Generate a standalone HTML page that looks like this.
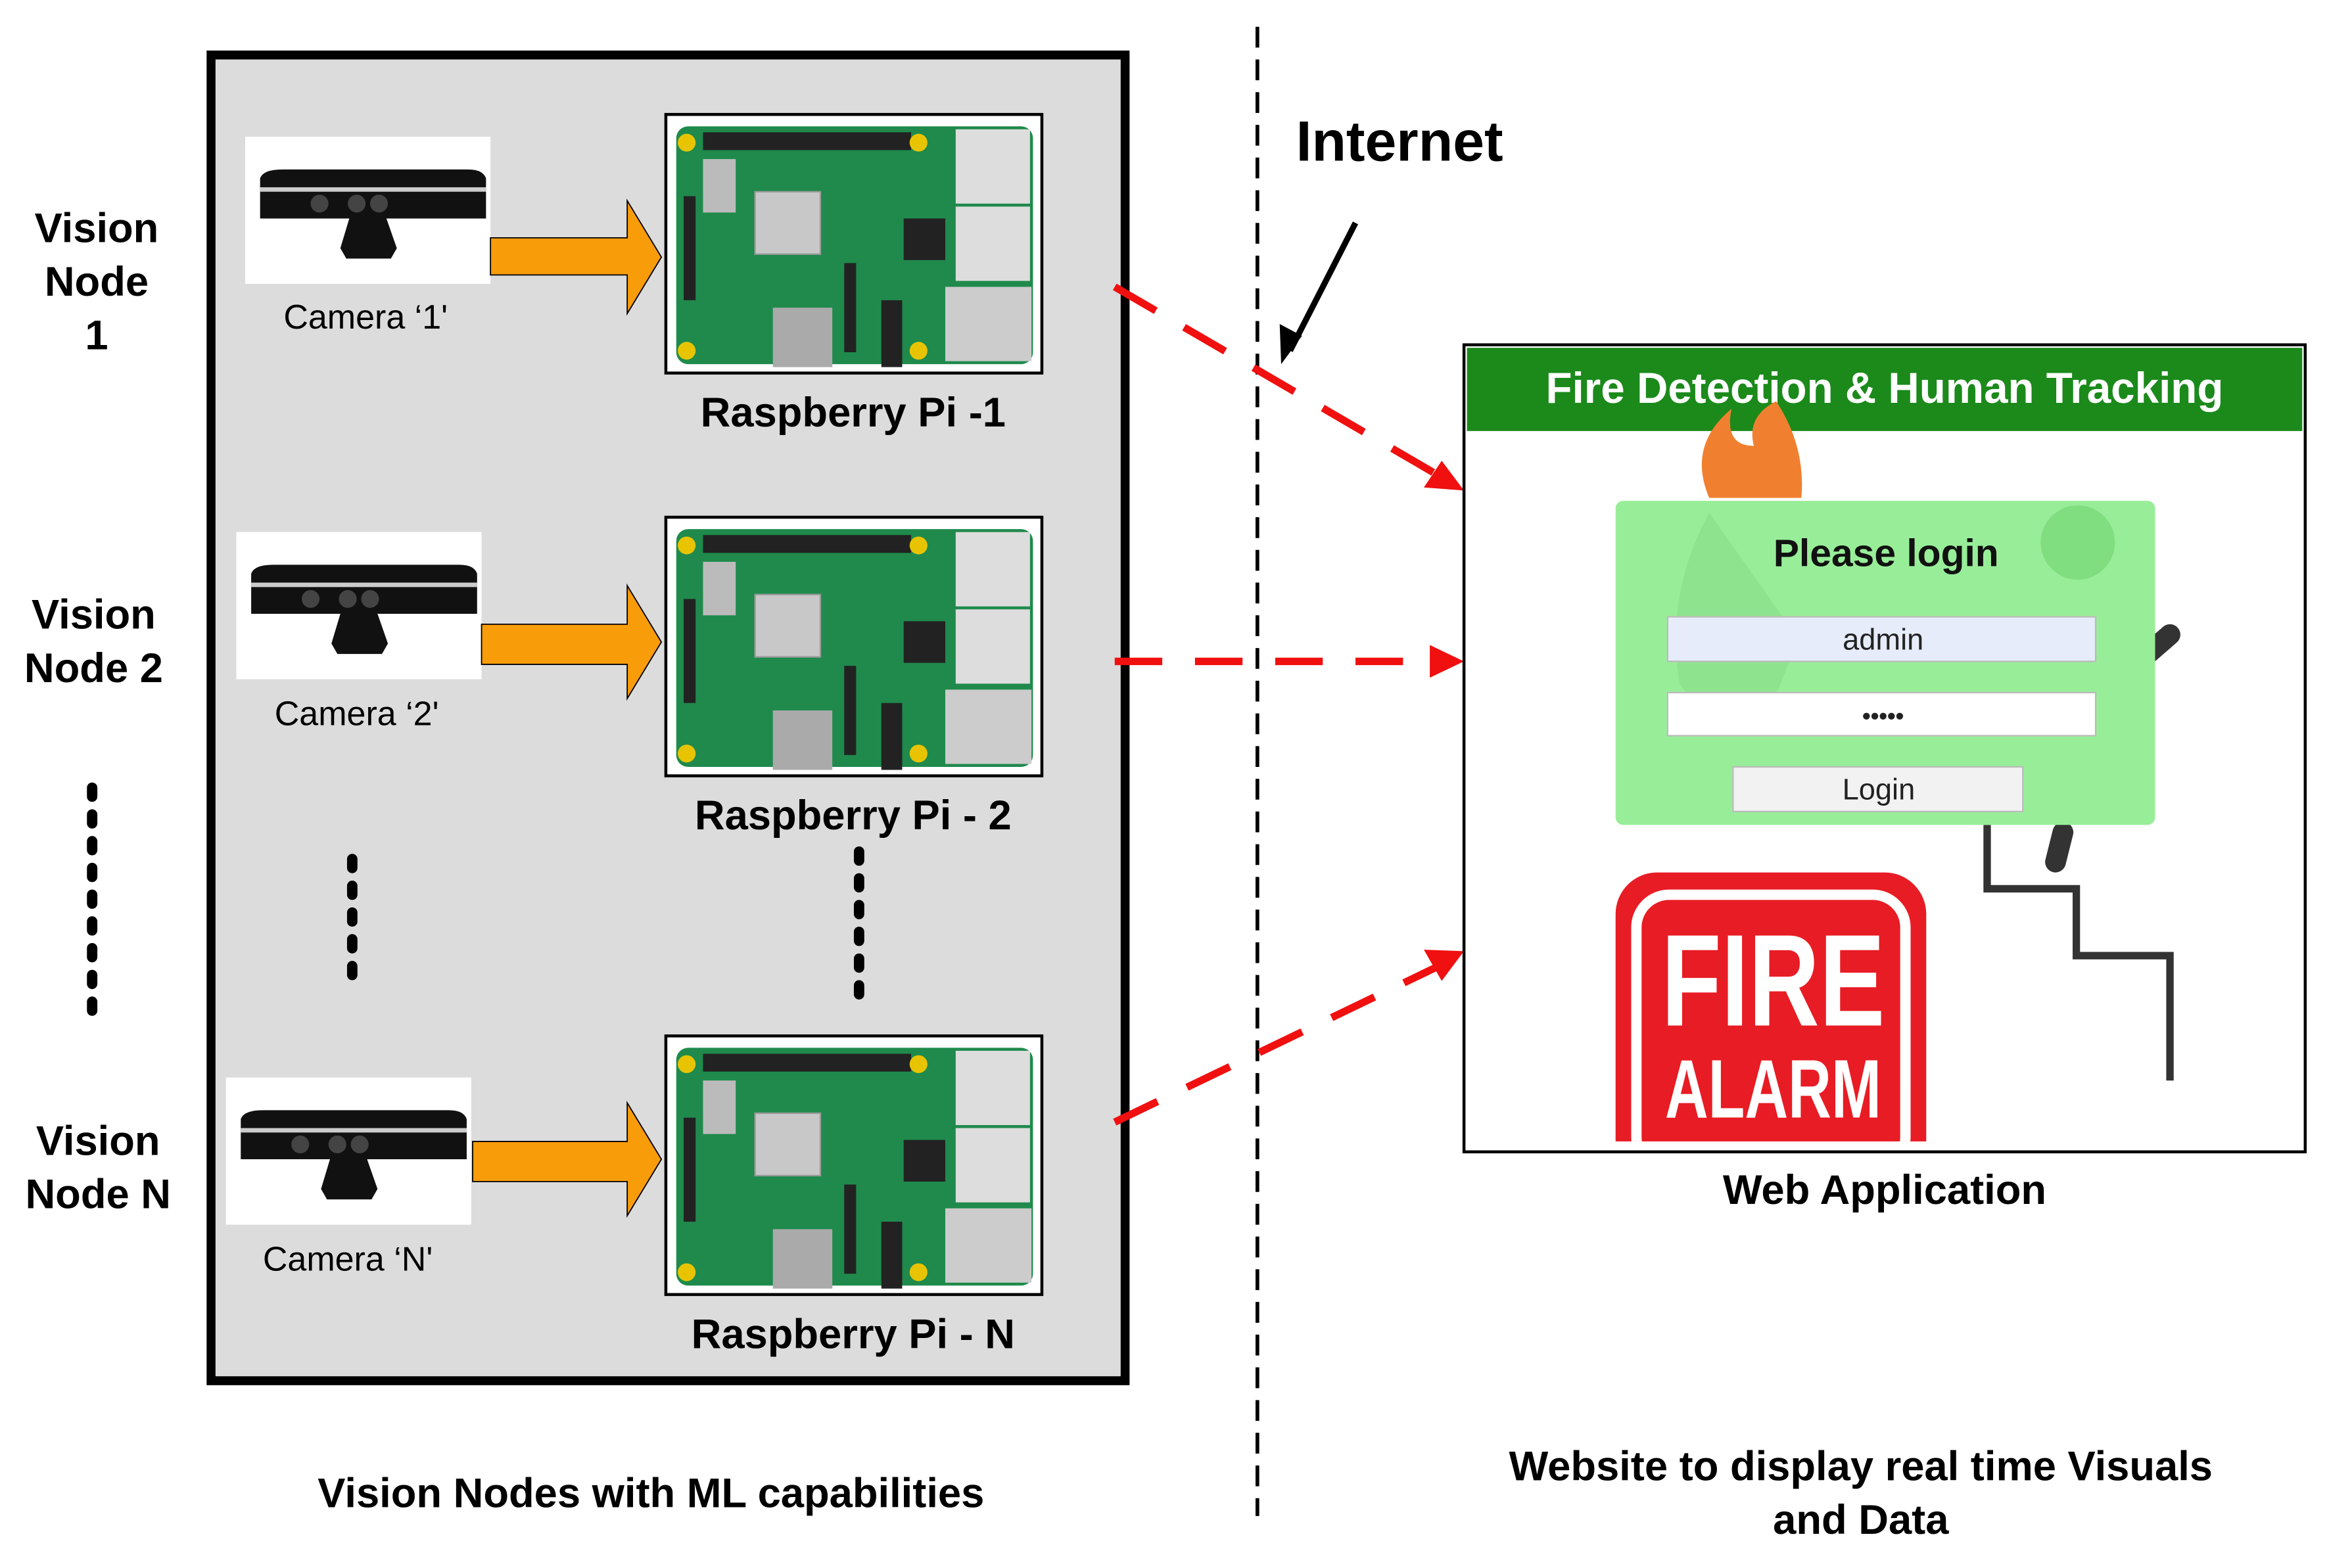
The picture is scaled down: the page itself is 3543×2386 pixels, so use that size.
<!DOCTYPE html>
<html><head><meta charset="utf-8"><style>
html,body{margin:0;padding:0;background:#fff;}
svg{display:block;}
text{font-family:"Liberation Sans",Arial,sans-serif;}
</style></head><body>
<svg width="3543" height="2386" viewBox="0 0 1567 1055" preserveAspectRatio="none" xmlns="http://www.w3.org/2000/svg">
<defs>
<g id="pi">
<rect x="0" y="0" width="253" height="174" fill="#fff" stroke="#000" stroke-width="2"/>
<rect x="7" y="8" width="240" height="160" rx="8" fill="#1f8a4c"/>
<rect x="25" y="12" width="140" height="12" fill="#222"/>
<circle cx="14" cy="19" r="6" fill="#e8c400"/><circle cx="170" cy="19" r="6" fill="#e8c400"/>
<circle cx="14" cy="159" r="6" fill="#e8c400"/><circle cx="170" cy="159" r="6" fill="#e8c400"/>
<rect x="60" y="52" width="44" height="42" fill="#c8c8c8" stroke="#999"/>
<rect x="25" y="30" width="22" height="36" fill="#bbb"/>
<rect x="160" y="70" width="28" height="28" fill="#222"/>
<rect x="195" y="10" width="50" height="50" fill="#ddd"/>
<rect x="195" y="62" width="50" height="50" fill="#ddd"/>
<rect x="188" y="116" width="58" height="50" fill="#ccc"/>
<rect x="72" y="130" width="40" height="40" fill="#aaa"/>
<rect x="145" y="125" width="14" height="45" fill="#222"/>
<rect x="120" y="100" width="8" height="60" fill="#222"/>
<rect x="12" y="55" width="8" height="70" fill="#222"/>
</g>
<g id="cam">
<rect x="0" y="0" width="165" height="99" fill="#fff"/>
<path d="M10 28 Q12 22 25 22 L150 22 Q160 22 162 28 L162 55 L10 55 Z" fill="#111"/>
<rect x="10" y="34" width="152" height="3" fill="#ccc"/>
<circle cx="50" cy="45" r="6" fill="#444"/><circle cx="75" cy="45" r="6" fill="#444"/><circle cx="90" cy="45" r="6" fill="#444"/>
<path d="M70 55 L95 55 L102 75 L98 82 L68 82 L64 75 Z" fill="#111"/>
</g>
</defs>

<rect x="142" y="37" width="615" height="892" fill="#dcdcdc" stroke="#000" stroke-width="6"/>

<use href="#cam" x="165" y="92"/>
<use href="#cam" x="159" y="358"/>
<use href="#cam" x="152" y="725"/>
<text x="246" y="221" font-size="23" text-anchor="middle">Camera ‘1'</text>
<text x="240" y="488" font-size="23" text-anchor="middle">Camera ‘2'</text>
<text x="234" y="855" font-size="23" text-anchor="middle">Camera ‘N'</text>

<g fill="#f89c0a" stroke="#000" stroke-width="0.8">
<path d="M330 160 L422 160 L422 135 L445 173 L422 211 L422 185 L330 185 Z"/>
<path d="M324 420 L422 420 L422 394 L445 432 L422 470 L422 447 L324 447 Z"/>
<path d="M318 768 L422 768 L422 742 L445 780 L422 818 L422 795 L318 795 Z"/>
</g>

<use href="#pi" x="448" y="77"/>
<use href="#pi" x="448" y="348"/>
<use href="#pi" x="448" y="697"/>

<g font-size="28" font-weight="bold" text-anchor="middle">
<text x="574" y="287">Raspberry Pi -1</text>
<text x="574" y="558">Raspberry Pi - 2</text>
<text x="574" y="907">Raspberry Pi - N</text>
<text x="65" y="163">Vision</text><text x="65" y="199">Node</text><text x="65" y="235">1</text>
<text x="63" y="423">Vision</text><text x="63" y="459">Node 2</text>
<text x="66" y="777">Vision</text><text x="66" y="813">Node N</text>
<text x="438" y="1014">Vision Nodes with ML capabilities</text>
<text x="1268" y="810">Web Application</text>
<text x="1252" y="996">Website to display real time Visuals</text>
<text x="1252" y="1032">and Data</text>
</g>

<g stroke="#000" stroke-width="7" stroke-linecap="round" stroke-dasharray="6 12">
<line x1="62" y1="530" x2="62" y2="692"/>
<line x1="237" y1="578" x2="237" y2="660"/>
<line x1="578" y1="573" x2="578" y2="676"/>
</g>

<line x1="846" y1="18" x2="846" y2="1020" stroke="#000" stroke-width="2.5" stroke-dasharray="14 8"/>
<text x="872" y="108" font-size="38" font-weight="bold">Internet</text>
<line x1="912" y1="150" x2="868" y2="236" stroke="#000" stroke-width="4"/>
<path d="M862 245 L861 218 L876 226 Z" fill="#000"/>

<g stroke="#f01010" stroke-width="5" stroke-dasharray="32 22">
<line x1="750" y1="193" x2="968" y2="320"/>
<line x1="750" y1="445" x2="966" y2="445"/>
<line x1="750" y1="755" x2="968" y2="650"/>
</g>
<g fill="#f01010">
<path d="M985 330 L958 328 L970 310 Z"/>
<path d="M985 445 L962 434 L962 456 Z"/>
<path d="M985 640 L958 639 L970 660 Z"/>
</g>

<rect x="985" y="232" width="566" height="543" fill="#fff" stroke="#000" stroke-width="2"/>
<rect x="987" y="234" width="562" height="56" fill="#1b8a1b"/>
<text x="1268" y="271" font-size="29" font-weight="bold" fill="#fff" text-anchor="middle">Fire Detection &amp; Human Tracking</text>

<path d="M1150 335 Q1135 300 1165 275 Q1160 300 1180 300 Q1175 280 1195 270 Q1215 300 1212 335 Z" fill="#f08030"/>
<polyline points="1337,555 1337,598 1397,598 1397,643 1460,643 1460,727" fill="none" stroke="#333" stroke-width="5"/>
<line x1="1388" y1="560" x2="1383" y2="580" stroke="#333" stroke-width="14" stroke-linecap="round"/>
<line x1="1445" y1="440" x2="1460" y2="427" stroke="#333" stroke-width="14" stroke-linecap="round"/>

<rect x="1087" y="337" width="363" height="218" rx="5" fill="#98ee98"/>
<circle cx="1398" cy="365" r="25" fill="#80dd80"/>
<path d="M1150 345 Q1120 400 1130 460 Q1150 490 1190 480 L1210 430 Z" fill="#8ee48e"/>
<text x="1269" y="381" font-size="26" font-weight="bold" fill="#111" text-anchor="middle">Please login</text>
<rect x="1122" y="415" width="288" height="30" fill="#e6ecfa" stroke="#bbb"/>
<text x="1267" y="437" font-size="20" text-anchor="middle" fill="#222">admin</text>
<rect x="1122" y="466" width="288" height="29" fill="#fff" stroke="#bbb"/>
<text x="1267" y="487" font-size="16" font-weight="bold" text-anchor="middle" fill="#222">•••••</text>
<rect x="1166" y="516" width="195" height="30" fill="#f2f2f2" stroke="#bbb"/>
<text x="1264" y="538" font-size="20" text-anchor="middle" fill="#222">Login</text>

<clipPath id="cl"><rect x="1080" y="580" width="230" height="188"/></clipPath>
<g clip-path="url(#cl)">
<rect x="1087" y="587" width="209" height="210" rx="28" fill="#e81c24"/>
<rect x="1101" y="602" width="181" height="185" rx="22" fill="none" stroke="#fff" stroke-width="7"/>
<text x="1193" y="690" font-size="88" font-weight="bold" fill="#fff" text-anchor="middle" transform="translate(1193 0) scale(0.75 1) translate(-1193 0)">FIRE</text>
<text x="1193" y="752" font-size="56" font-weight="bold" fill="#fff" text-anchor="middle" transform="translate(1193 0) scale(0.72 1) translate(-1193 0)">ALARM</text>
</g>
</svg>
</body></html>
